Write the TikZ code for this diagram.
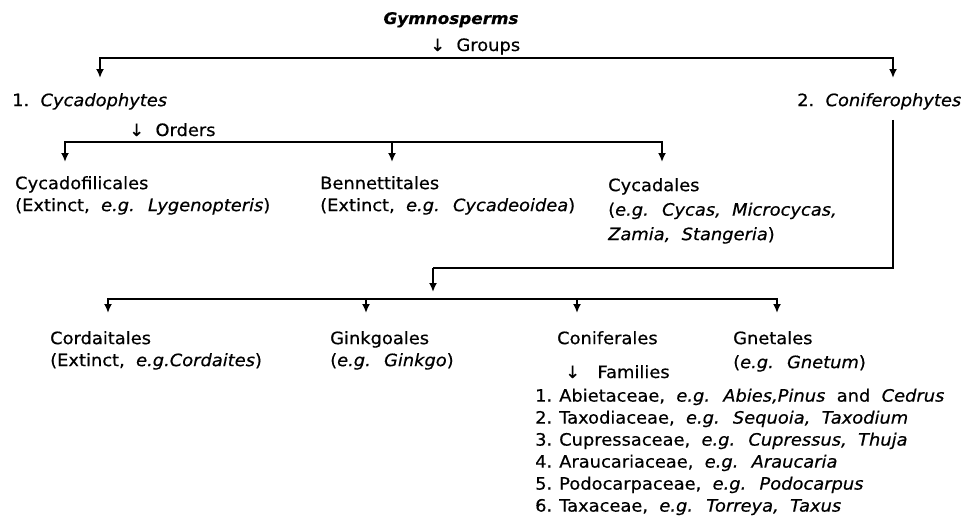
\documentclass[tikz,border=0pt]{standalone}
\usepackage{fontspec}
\setmainfont{DejaVu Sans}[FakeStretch=1.05, WordSpace=2, FakeBold=0.5]
\usetikzlibrary{arrows.meta}
\begin{document}
\begin{tikzpicture}[x=1pt,y=-1pt,
  txt/.style={inner sep=0pt, anchor=north west, align=left, font=\fontsize{17}{22}\selectfont},
  ln/.style={line width=1.8pt},
  arr/.style={line width=1.8pt, -{Latex[length=9pt,width=8pt]}}]
\fill[white] (0,0) rectangle (980,517);
\useasboundingbox (0,0) rectangle (980,517);

% texts
\node[txt, anchor=base] (gym) at (451,24) {\fontsize{16}{20}\selectfont\bfseries\itshape Gymnosperms};
\node[txt, anchor=base west] (groups) at (430,51) {↓ Groups};
\node[txt] (cyc) at (12,93) {1.\ \textit{Cycadophytes}};
\node[txt] (conif) at (797,93) {2.\ \textit{Coniferophytes}};
\node[txt, anchor=base west] (orders) at (129,136) {↓ Orders};
\node[txt] (cf) at (15,176) {Cycadofilicales\\(Extinct, \textit{e.g. Lygenopteris})};
\node[txt] (ben) at (320,176) {Bennettitales\\(Extinct, \textit{e.g. Cycadeoidea})};
\node[txt, font=\fontsize{17}{24.5}\selectfont] (cyd) at (608,178) {Cycadales\\(\textit{e.g. Cycas, Microcycas,}\\\textit{Zamia, Stangeria})};
\node[txt] (cord) at (50,331) {Cordaitales\\(Extinct, \textit{e.g.Cordaites})};
\node[txt] (gink) at (330,331) {Ginkgoales\\(\textit{e.g. Ginkgo})};
\node[txt] (conf) at (557,331) {Coniferales};
\node[txt, anchor=base west] (fam) at (565,378) {↓\hspace{6pt} Families};
\node[txt, font=\fontsize{17}{24}\selectfont] (gnet) at (733,331) {Gnetales\\(\textit{e.g. Gnetum})};
\node[txt] (list) at (535,386) {\begin{tabular}{@{}l@{\hspace{7pt}}l@{}}
1. & Abietaceae, \textit{e.g. Abies,Pinus} and \textit{Cedrus}\\
2. & Taxodiaceae, \textit{e.g. Sequoia, Taxodium}\\
3. & Cupressaceae, \textit{e.g. Cupressus, Thuja}\\
4. & Araucariaceae, \textit{e.g. Araucaria}\\
5. & Podocarpaceae, \textit{e.g. Podocarpus}\\
6. & Taxaceae, \textit{e.g. Torreya, Taxus}
\end{tabular}};

% groups
\coordinate (c1) at (437,58);
\draw[arr] (c1) -| ([xshift=88pt,yshift=15pt]cyc.north west);
\draw[arr] (c1) -| ([xshift=96pt,yshift=15pt]conif.north west);

% orders
\coordinate (c2) at (392,142);
\draw[arr] (c2) -| ([xshift=50pt,yshift=14pt]cf.north west);
\draw[arr] (c2) -| ([xshift=72pt,yshift=14pt]ben.north west);
\draw[arr] (c2) -| ([xshift=54pt,yshift=16pt]cyd.north west);

% coniferophytes
\coordinate (k1) at (433,268);
\coordinate (k2) at (433,292);
\draw[ln] ([xshift=96pt,yshift=-10pt]conif.south west) |- (k1);
\draw[arr] (k1) -- (k2);
\coordinate (c3) at (433,299);
\draw[arr] (c3) -| ([xshift=58pt,yshift=18pt]cord.north west);
\draw[arr] (c3) -| ([xshift=36pt,yshift=18pt]gink.north west);
\draw[arr] (c3) -| ([xshift=20pt,yshift=18pt]conf.north west);
\draw[arr] (c3) -| ([xshift=44pt,yshift=18pt]gnet.north west);
\end{tikzpicture}
\end{document}
